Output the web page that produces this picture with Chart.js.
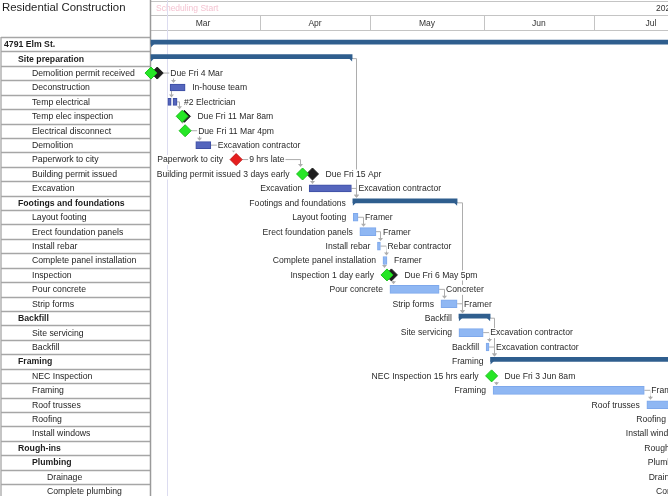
<!DOCTYPE html>
<html><head><meta charset="utf-8">
<script src="https://cdn.jsdelivr.net/npm/chart.js@4"></script>
<style>html,body{margin:0;padding:0;background:#fff;overflow:hidden}canvas{display:block}</style>
</head><body>
<canvas id="c" width="668" height="496"></canvas>
<script>
// ---------- data ----------
const title = 'Residential Construction';
const categories = ['4791 Elm St.','Site preparation','Demolition permit received','Deconstruction','Temp electrical','Temp elec inspection','Electrical disconnect','Demolition','Paperwork to city','Building permit issued','Excavation','Footings and foundations','Layout footing','Erect foundation panels','Install rebar','Complete panel installation','Inspection','Pour concrete','Strip forms','Backfill','Site servicing','Backfill','Framing','NEC Inspection','Framing','Roof trusses','Roofing','Install windows','Rough-ins','Plumbing','Drainage','Complete plumbing'];
const outlineLevel = [0,1,2,2,2,2,2,2,2,2,2,1,2,2,2,2,2,2,2,1,2,2,1,2,2,2,2,2,1,2,3,3];
const boldRows = [0,1,11,19,22,28,29];

// months: day offsets from 1 Mar 2022
const monthNames = ['Mar','Apr','May','Jun','Jul'];
const monthStartDay = [0,31,61,92,122,153];
const yearLabel = '2022';
const schedulingStartDay = 5.7;

// summary bars (days since 1 Mar)
const summaryRows  = [0, 1, 11, 19, 22, 28, 29];
const summaryStart = [1.3, 1.3, 56.3, 85.2, 93.8, 148.3, 148.3];
const summaryEnd   = [170, 56.1, 84.7, 93.7, 170, 190, 180];

// task bars
const darkRows  = [3, 4, 4, 7, 10];
const darkStart = [6.5, 5.9, 7.3, 13.5, 44.4];
const darkEnd   = [10.6, 6.8, 8.4, 17.6, 55.9];
const lightRows  = [12, 13, 14, 15, 17, 18, 20, 21, 24, 25, 26, 27, 30, 31];
const lightStart = [56.4, 58.2, 63.0, 64.5, 66.4, 80.3, 85.2, 92.6, 94.5, 136.4, 143.5, 148.3, 148.3, 161];
const lightEnd   = [57.7, 62.6, 63.8, 65.6, 79.8, 84.7, 91.8, 93.4, 135.7, 150, 155, 152, 152, 170];

// milestones
const dueRows = [2, 5, 9, 16];
const dueDay  = [3.0, 10.4, 45.3, 66.8];
const actualRows = [2, 5, 6, 9, 16, 23];
const actualDay  = [1.3, 9.8, 10.6, 42.6, 65.6, 94.1];
const lateRows = [8];
const lateDay  = [24.5];

const leftLabels = ['','','','','','','','','Paperwork to city','Building permit issued 3 days early','Excavation','Footings and foundations','Layout footing','Erect foundation panels','Install rebar','Complete panel installation','Inspection 1 day early','Pour concrete','Strip forms','Backfill','Site servicing','Backfill','Framing','NEC Inspection 15 hrs early','Framing','Roof trusses','Roofing','Install windows','Rough-ins','Plumbing','Drainage','Complete plumbing'];
const rightLabels = ['','','Due Fri 4 Mar','In-house team','#2 Electrician','Due Fri 11 Mar 8am','Due Fri 11 Mar 4pm','Excavation contractor','9 hrs late','Due Fri 15 Apr','Excavation contractor','','Framer','Framer','Rebar contractor','Framer','Due Fri 6 May 5pm','Concreter','Framer','','Excavation contractor','Excavation contractor','','Due Fri 3 Jun 8am','Framer','','','','','','',''];

const linkFrom = [2,3,4,5,6,7,8,9,10,1,12,13,14,15,16,17,18,11,20,21,19,23,24];
const linkTo   = [3,4,5,6,7,8,9,10,11,11,13,14,15,16,17,18,19,19,21,22,22,24,25];

// ---------- styling ----------
const FONT = '"Liberation Sans", Arial, sans-serif';
const X_MIN = 1.03, X_MAX = 142.16;
const Y_MIN = -0.5, Y_MAX = 31.33;
const DIAMOND_R = 6;

function ext(chart){
  const x = chart.scales.x;
  const e = categories.map(()=>({s:Infinity,e:-Infinity,h:0}));
  const add=(r,a,b,h)=>{e[r].s=Math.min(e[r].s,a);e[r].e=Math.max(e[r].e,b);e[r].h=Math.max(e[r].h,h);};
  summaryRows.forEach((r,i)=>add(r,x.getPixelForValue(summaryStart[i]),x.getPixelForValue(summaryEnd[i]),4));
  darkRows.forEach((r,i)=>add(r,x.getPixelForValue(darkStart[i]),x.getPixelForValue(darkEnd[i]),3.5));
  lightRows.forEach((r,i)=>add(r,x.getPixelForValue(lightStart[i]),x.getPixelForValue(lightEnd[i]),4));
  [[dueRows,dueDay],[actualRows,actualDay],[lateRows,lateDay]].forEach(([rs,ds])=>rs.forEach((r,i)=>{const p=x.getPixelForValue(ds[i]);add(r,p-DIAMOND_R,p+DIAMOND_R,DIAMOND_R);}));
  return e;
}

const backdrop = {
  id:'backdrop',
  beforeDraw(chart){
    const ctx = chart.ctx, x = chart.scales.x, y = chart.scales.y;
    ctx.save();
    ctx.fillStyle='#fff'; ctx.fillRect(0,0,chart.width,chart.height);
    // title
    ctx.fillStyle='#1e1e1e'; ctx.font='11.4px '+FONT; ctx.textBaseline='middle'; ctx.textAlign='left';
    ctx.fillText(title,2,8);
    // left table
    ctx.strokeStyle='#a6a6a6'; ctx.lineWidth=1.3;
    for(let i=0;i<=categories.length;i++){
      const yy = Math.round(y.getPixelForValue(i-0.5))+0.5;
      ctx.beginPath(); ctx.moveTo(1,yy); ctx.lineTo(150,yy); ctx.stroke();
    }
    const top = y.getPixelForValue(-0.5);
    ctx.beginPath(); ctx.moveTo(1,top); ctx.lineTo(1,chart.height); ctx.stroke();
    categories.forEach((c,i)=>{
      const yy = y.getPixelForValue(i)+0.5;
      ctx.font=(boldRows.includes(i)?'bold ':'')+'8.7px '+FONT;
      ctx.fillStyle='#1e1e1e';
      ctx.fillText(c,[4,18,32,47][outlineLevel[i]],yy);
    });
    // header
    ctx.strokeStyle='#c4c4c4'; ctx.lineWidth=1;
    [1.5,15.5,30.5].forEach(h=>{ctx.beginPath();ctx.moveTo(150,h);ctx.lineTo(668,h);ctx.stroke();});
    ctx.font='8.5px '+FONT; ctx.fillStyle='#333'; ctx.textAlign='center';
    monthNames.forEach((m,i)=>{
      const a=x.getPixelForValue(monthStartDay[i]), b=x.getPixelForValue(monthStartDay[i+1]);
      ctx.fillText(m,(a+b)/2,23.5);
      if(a>151){ctx.beginPath();ctx.moveTo(Math.round(a)+0.5,15.5);ctx.lineTo(Math.round(a)+0.5,30.5);ctx.stroke();}
    });
    ctx.textAlign='left';
    ctx.fillText(yearLabel,656,8.5);
    ctx.fillStyle='#f4c3d1';
    ctx.fillText('Scheduling Start',156,8.5);
    // chart left border
    ctx.strokeStyle='#9a9a9a'; ctx.lineWidth=1.5;
    ctx.beginPath(); ctx.moveTo(150.5,0); ctx.lineTo(150.5,chart.height); ctx.stroke();
    // scheduling start line
    const sx = Math.round(x.getPixelForValue(schedulingStartDay))+0.5;
    ctx.strokeStyle='#dcdcf0'; ctx.lineWidth=1;
    ctx.beginPath(); ctx.moveTo(sx,0); ctx.lineTo(sx,chart.height); ctx.stroke();
    ctx.restore();
  },
  beforeDatasetsDraw(chart){
    const ctx=chart.ctx, y=chart.scales.y, e=ext(chart);
    ctx.save();
    ctx.strokeStyle='#adadad'; ctx.fillStyle='#adadad'; ctx.lineWidth=1;
    linkFrom.forEach((f,i)=>{
      const t=linkTo[i];
      const y0=y.getPixelForValue(f), y1=y.getPixelForValue(t)-e[t].h-1;
      const x0=e[f].e, xs=Math.round(e[t].s+3)+0.5;
      ctx.beginPath();
      if(xs>x0+1){ctx.moveTo(x0,y0);ctx.lineTo(xs,y0);ctx.lineTo(xs,y1-2);}
      else {ctx.moveTo(xs,y0+e[f].h);ctx.lineTo(xs,y1-2);}
      ctx.stroke();
      ctx.beginPath();ctx.moveTo(xs-2.5,y1-3);ctx.lineTo(xs+2.5,y1-3);ctx.lineTo(xs,y1);ctx.closePath();ctx.fill();
    });
    ctx.restore();
  },
  afterDatasetsDraw(chart){
    const ctx=chart.ctx, y=chart.scales.y, e=ext(chart);
    ctx.save();
    // summary end caps
    const meta=chart.getDatasetMeta(0);
    ctx.fillStyle='#2f5e8e';
    meta.data.forEach(el=>{
      const yb=el.y+el.height/2, a=Math.min(el.base,el.x), b=Math.max(el.base,el.x);
      ctx.beginPath();ctx.moveTo(a,yb-1);ctx.lineTo(a+4,yb-1);ctx.lineTo(a,yb+3);ctx.closePath();ctx.fill();
      ctx.beginPath();ctx.moveTo(b,yb-1);ctx.lineTo(b-4,yb-1);ctx.lineTo(b,yb+3);ctx.closePath();ctx.fill();
    });
    // labels
    ctx.font='8.6px '+FONT; ctx.textBaseline='middle';
    categories.forEach((c,i)=>{
      const yy=y.getPixelForValue(i)+0.5;
      if(rightLabels[i]){
        const tx=e[i].e+7, w=ctx.measureText(rightLabels[i]).width;
        ctx.fillStyle='#fff'; ctx.fillRect(tx-1,yy-5,w+2,10);
        ctx.fillStyle='#2a2a2a'; ctx.textAlign='left'; ctx.fillText(rightLabels[i],tx,yy);
      }
      if(leftLabels[i]){
        const tx=e[i].s-7, w=ctx.measureText(leftLabels[i]).width;
        ctx.fillStyle='#fff'; ctx.fillRect(tx-w-1,yy-5,w+2,10);
        ctx.fillStyle='#2a2a2a'; ctx.textAlign='right'; ctx.fillText(leftLabels[i],tx,yy);
      }
    });
    ctx.restore();
  }
};

const bars = (rows,s,e)=>rows.map((r,i)=>({y:r,x:[s[i],e[i]]}));
const pts = (rows,d)=>rows.map((r,i)=>({y:r,x:d[i]}));

new Chart(document.getElementById('c'),{
  type:'bar',
  data:{datasets:[
    {type:'bar',indexAxis:'y',yAxisID:'ySum',data:bars(summaryRows,summaryStart,summaryEnd),backgroundColor:'#2f5e8e',borderWidth:0,barThickness:4,grouped:false,order:6},
    {type:'bar',indexAxis:'y',data:bars(darkRows,darkStart,darkEnd),backgroundColor:'#5566bd',borderColor:'#3d4ea3',borderWidth:1,borderSkipped:false,barThickness:7,grouped:false,order:5},
    {type:'bar',indexAxis:'y',data:bars(lightRows,lightStart,lightEnd),backgroundColor:'#8fb7f3',borderColor:'#7ea8eb',borderWidth:1,borderSkipped:false,barThickness:8,grouped:false,order:4},
    {type:'scatter',clip:false,data:pts(dueRows,dueDay),pointStyle:'rectRot',pointRadius:DIAMOND_R,backgroundColor:'#1e1e1e',borderColor:'#1e1e1e',borderWidth:1,order:2},
    {type:'scatter',clip:false,data:pts(actualRows,actualDay),pointStyle:'rectRot',pointRadius:DIAMOND_R,backgroundColor:'#26e626',borderColor:'#1cc21c',borderWidth:1,order:1},
    {type:'scatter',clip:false,data:pts(lateRows,lateDay),pointStyle:'rectRot',pointRadius:DIAMOND_R,backgroundColor:'#e61e1e',borderColor:'#c41515',borderWidth:1,order:1}
  ]},
  options:{
    responsive:false, animation:false, devicePixelRatio:1,
    layout:{padding:{left:150,top:37,right:0,bottom:0},autoPadding:false},
    plugins:{legend:{display:false},tooltip:{enabled:false}},
    events:[],
    scales:{
      x:{type:'linear',min:X_MIN,max:X_MAX,display:false,offset:false,grid:{offset:false}},
      y:{type:'linear',axis:'y',min:Y_MIN,max:Y_MAX,reverse:true,display:false,offset:false,grid:{offset:false}},
      ySum:{type:'linear',axis:'y',min:Y_MIN+0.14,max:Y_MAX+0.14,reverse:true,display:false,offset:false,grid:{offset:false}}
    }
  },
  plugins:[backdrop]
});
</script>
</body></html>
